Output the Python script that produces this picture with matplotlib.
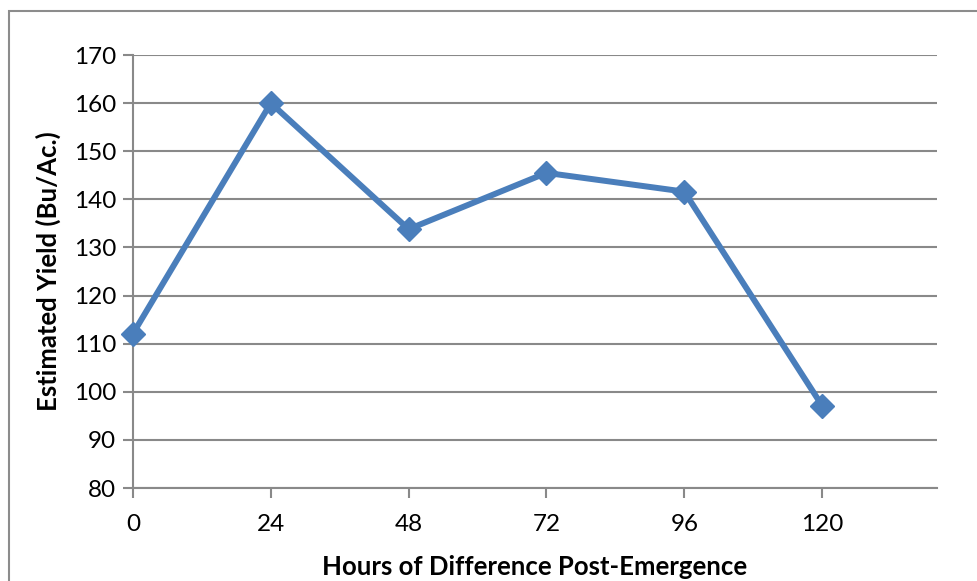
import numpy as np
import matplotlib.pyplot as plt
from matplotlib.patches import Rectangle

hours = [0, 24, 48, 72, 96, 120]
yield_bu = [112.1, 160.0, 133.8, 145.5, 141.6, 97.1]
y_ticks = [80, 90, 100, 110, 120, 130, 140, 150, 160, 170]

blue = '#4A7EBB'
grid_gray = '#898989'


def main():
    plt.rcParams['font.family'] = ['Lato', 'DejaVu Sans']
    fig = plt.figure(figsize=(9.77, 5.81), dpi=100)
    ax = fig.add_axes([133/977, 1-488/581, (937-133)/977, (488-55)/581])

    # chart area border (cut off at right and bottom)
    fig.patches.append(Rectangle((9/977, -0.1), 1.2, 1+0.1-11/581,
                                 transform=fig.transFigure, fill=False,
                                 edgecolor='#8c8c8c', linewidth=1.5))

    ax.plot(hours, yield_bu, color=blue, linewidth=4.3, marker='D',
            markersize=12, markerfacecolor=blue, markeredgecolor=blue,
            clip_on=False, zorder=3)

    ax.set_xlim(0, 140)
    ax.set_ylim(80, 170)
    ax.set_xticks(hours)
    ax.set_yticks(y_ticks)
    ax.yaxis.grid(True, color=grid_gray, linewidth=1.5)
    ax.set_axisbelow(True)
    for s in ['top', 'right']:
        ax.spines[s].set_visible(False)
    ax.spines['left'].set_color(grid_gray)
    ax.spines['bottom'].set_color(grid_gray)
    ax.spines['left'].set_linewidth(1.5)
    ax.spines['bottom'].set_linewidth(1.5)
    ax.tick_params(axis='both', colors=grid_gray, width=1.5, length=7,
                   labelcolor='black', labelsize=17.5)
    ax.tick_params(axis='x', pad=12)
    ax.tick_params(axis='y', pad=5)

    ax.set_xlabel('Hours of Difference Post-Emergence', fontsize=18.5,
                  fontweight='bold', labelpad=14)
    ax.set_ylabel('Estimated Yield (Bu/Ac.)', fontsize=18.5,
                  fontweight='bold', labelpad=9)

    fig.savefig('out.png', dpi=100)


if __name__ == "__main__":
    main()
